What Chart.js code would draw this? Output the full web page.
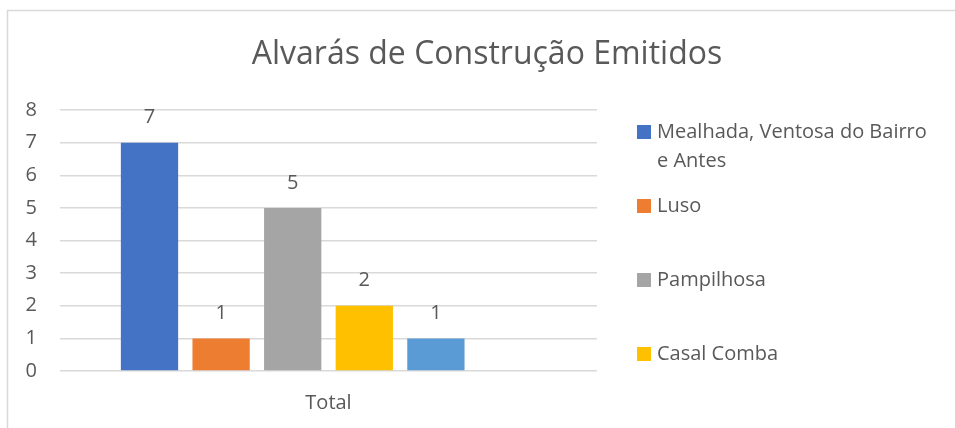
<!DOCTYPE html>
<html>
<head>
<meta charset="utf-8">
<script src="https://cdn.jsdelivr.net/npm/chart.js@4"></script>
<style>
  html, body { margin: 0; padding: 0; background: #fff; }
  #wrap { width: 955px; height: 428px; }
</style>
</head>
<body>
<div id="wrap"><canvas id="myChart" width="955" height="428"></canvas></div>
<script>
// chart data
var chartTitle = 'Alvarás de Construção Emitidos';
var categories = ['Total'];
var seriesNames = ['Mealhada, Ventosa do Bairro e Antes', 'Luso', 'Pampilhosa', 'Casal Comba', 'Barcouço', 'Vacariça'];
var seriesValues = [7, 1, 5, 2, 1, null];
var seriesColors = ['#4472C4', '#ED7D31', '#A5A5A5', '#FFC000', '#5B9BD5', '#70AD47'];
var yTicks = [0, 1, 2, 3, 4, 5, 6, 7, 8];

var FONT = "'Open Sans', 'Noto Sans', sans-serif";
var TEXT = '#595959';

// frame, title, value labels and wrapped legend (Excel style)
var excelLook = {
    id: 'excelLook',
    afterDraw: function (chart) {
        var ctx = chart.ctx;
        ctx.save();

        // chart frame (only top and left edges are in view)
        ctx.strokeStyle = '#d9d9d9';
        ctx.lineWidth = 1.5;
        ctx.beginPath();
        ctx.moveTo(7.5, 440);
        ctx.lineTo(7.5, 10.5);
        ctx.lineTo(960, 10.5);
        ctx.stroke();

        // title
        ctx.fillStyle = TEXT;
        ctx.font = '32px ' + FONT;
        ctx.textAlign = 'center';
        ctx.textBaseline = 'middle';
        ctx.fillText(chartTitle, 487, 55);

        // value labels above bars
        ctx.font = '20px ' + FONT;
        chart.data.datasets.forEach(function (ds, i) {
            var meta = chart.getDatasetMeta(i);
            meta.data.forEach(function (bar, j) {
                var v = ds.data[j];
                if (v === null || v === undefined) return;
                ctx.fillText(String(v), bar.x, bar.y - 25);
            });
        });

        // legend
        var lx = 637, tx = 657, maxW = 285, top = 132, step = 74, lineH = 29, bottom = 400;
        ctx.textAlign = 'left';
        chart.data.datasets.forEach(function (ds, i) {
            var y = top + i * step;
            var words = ds.label.split(' ');
            var lines = [], cur = '';
            words.forEach(function (w) {
                var t = cur ? cur + ' ' + w : w;
                if (cur && ctx.measureText(t).width > maxW) { lines.push(cur); cur = w; }
                else cur = t;
            });
            lines.push(cur);
            if (y + (lines.length - 1) * lineH + 10 > bottom) return;
            ctx.fillStyle = ds.backgroundColor;
            ctx.fillRect(lx, y - 7, 14, 14);
            ctx.fillStyle = TEXT;
            lines.forEach(function (ln, k) {
                ctx.fillText(ln, tx, y + k * lineH);
            });
        });
        ctx.restore();
    }
};

var datasets = seriesNames.map(function (name, i) {
    return {
        label: name,
        data: [seriesValues[i]],
        backgroundColor: seriesColors[i],
        borderWidth: 0
    };
});

var ctx = document.getElementById('myChart').getContext('2d');
var chart = new Chart(ctx, {
    type: 'bar',
    data: {
        labels: categories,
        datasets: datasets
    },
    options: {
        responsive: false,
        animation: false,
        layout: { padding: { left: 8, right: 358, top: 110, bottom: 0 } },
        datasets: {
            bar: { categoryPercentage: 0.8, barPercentage: 0.8 }
        },
        plugins: {
            legend: { display: false },
            title: { display: false },
            tooltip: { enabled: false }
        },
        scales: {
            x: {
                afterFit: function (scale) { scale.height = 57; },
                grid: { display: false, drawTicks: false },
                border: { display: false },
                ticks: { color: TEXT, font: { family: FONT, size: 20 }, padding: 20 }
            },
            y: {
                min: 0,
                max: 8,
                afterFit: function (scale) { scale.width = 52; },
                afterBuildTicks: function (scale) {
                    scale.ticks = yTicks.map(function (v) { return { value: v }; });
                },
                grid: { color: '#d9d9d9', lineWidth: 1.5, drawTicks: false },
                border: { display: false },
                ticks: { color: TEXT, font: { family: FONT, size: 20 }, padding: 23 }
            }
        }
    },
    plugins: [excelLook]
});
</script>
</body>
</html>
